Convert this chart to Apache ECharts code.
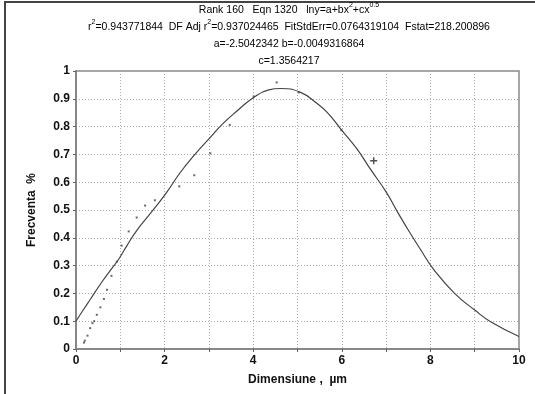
<!DOCTYPE html>
<html>
<head>
<meta charset="utf-8">
<script src="https://cdn.jsdelivr.net/npm/echarts@6/dist/echarts.min.js"></script>
<style>
  html, body { margin: 0; padding: 0; background: #fff; }
  #chart { width: 535px; height: 394px; }
</style>
</head>
<body>
<div id="chart"></div>
<script>
// fitted curve
const curveX = [0, 0.17, 0.32, 0.58, 0.81, 0.96, 1.15, 1.37, 1.67, 1.9, 2.05, 2.35, 2.65, 2.99, 3.3, 3.64, 4.01, 4.35, 4.62, 5.07, 5.45, 5.67, 6.01, 6.35, 6.65, 7.0, 7.25, 7.5, 7.78, 8.08, 8.54, 9.0, 9.37, 10];
const curveY = [0.1, 0.142, 0.178, 0.24, 0.29, 0.322, 0.372, 0.426, 0.486, 0.532, 0.564, 0.634, 0.694, 0.754, 0.808, 0.857, 0.905, 0.932, 0.937, 0.923, 0.882, 0.851, 0.785, 0.718, 0.646, 0.565, 0.495, 0.428, 0.357, 0.285, 0.201, 0.14, 0.097, 0.045];

// measured points
const pointsX = [0.18, 0.2, 0.26, 0.32, 0.37, 0.41, 0.47, 0.55, 0.63, 0.70, 0.80, 0.92, 1.03, 1.19, 1.37, 1.56, 1.78, 2.33, 2.67, 3.03, 3.47, 4.01, 4.53, 5.03, 5.99];
const pointsY = [0.023, 0.03, 0.048, 0.075, 0.093, 0.1, 0.123, 0.15, 0.18, 0.213, 0.263, 0.314, 0.372, 0.423, 0.473, 0.516, 0.535, 0.585, 0.625, 0.704, 0.806, 0.908, 0.959, 0.923, 0.787];

// the point drawn with a cross
const outlierX = [6.72];
const outlierY = [0.677];

const xTicks = [0, 2, 4, 6, 8, 10];

const zip = (xs, ys) => xs.map((x, i) => [x, ys[i]]);

const chart = echarts.init(document.getElementById('chart'), null, { renderer: 'canvas' });

const titleStyle = {
  n: { fontSize: 10.5, fontFamily: 'Liberation Sans', color: '#333', lineHeight: 17 },
  s: { fontSize: 7, fontFamily: 'Liberation Sans', color: '#333', verticalAlign: 'top', lineHeight: 13 }
};

const option = {
  backgroundColor: '#fff',
  animation: false,
  textStyle: { fontFamily: 'Liberation Sans' },
  graphic: [
    // outer frame (top and left edges only)
    { type: 'line', shape: { x1: 4, y1: 2, x2: 535, y2: 2 }, style: { stroke: '#444', lineWidth: 2 } },
    { type: 'line', shape: { x1: 5, y1: 2, x2: 5, y2: 394 }, style: { stroke: '#444', lineWidth: 2 } },
    {
      type: 'text', x: 289, y: 2,
      style: {
        align: 'center', verticalAlign: 'top',
        text: '{n|Rank 160   Eqn 1320   lny=a+bx}{s|2}{n|+cx}{s|0.5}\n' +
              '{n|r}{s|2}{n|=0.943771844  DF Adj r}{s|2}{n|=0.937024465  FitStdErr=0.0764319104  Fstat=218.200896}\n' +
              '{n|a=-2.5042342 b=-0.0049316864}\n' +
              '{n|c=1.3564217}',
        rich: titleStyle
      }
    }
  ],
  grid: {
    left: 76, right: 16, top: 71, bottom: 45,
    show: true, borderColor: '#888', borderWidth: 1.5
  },
  xAxis: {
    type: 'value', min: 0, max: 10, interval: 1,
    name: 'Dimensiune ,  µm', nameLocation: 'middle', nameGap: 25,
    nameTextStyle: { fontSize: 12, fontWeight: 'bold', color: '#111', fontFamily: 'Liberation Sans' },
    axisLine: { show: true, lineStyle: { color: '#888', width: 2 } },
    axisTick: { show: true, length: 3, inside: false, lineStyle: { color: '#666' } },
    axisLabel: {
      fontSize: 12, fontWeight: 'bold', color: '#111', margin: 6,
      formatter: v => xTicks.includes(v) ? String(v) : ''
    },
    splitLine: { show: true, lineStyle: { color: '#aaa', type: [1, 2], width: 1 } }
  },
  yAxis: {
    type: 'value', min: 0, max: 1, interval: 0.1,
    name: 'Frecventa  %', nameLocation: 'middle', nameGap: 38,
    nameTextStyle: { fontSize: 12, fontWeight: 'bold', color: '#111', fontFamily: 'Liberation Sans' },
    axisLine: { show: true, lineStyle: { color: '#888', width: 2 } },
    axisTick: { show: true, length: 3, lineStyle: { color: '#666' } },
    axisLabel: {
      fontSize: 12, fontWeight: 'bold', color: '#111', margin: 6,
      formatter: v => String(Math.round(v * 10) / 10)
    },
    splitLine: { show: true, lineStyle: { color: '#aaa', type: [1, 2], width: 1 } }
  },
  series: [
    {
      type: 'line', data: zip(curveX, curveY), smooth: 0.5, showSymbol: false,
      lineStyle: { color: '#444', width: 1.2 }, silent: true, z: 3
    },
    {
      type: 'scatter', data: zip(pointsX, pointsY), symbol: 'rect', symbolSize: 2,
      itemStyle: { color: '#444' }, silent: true, z: 4
    },
    {
      type: 'scatter', data: zip(outlierX, outlierY),
      symbol: 'path://M4,0 L6,0 L6,4 L10,4 L10,6 L6,6 L6,10 L4,10 L4,6 L0,6 L0,4 L4,4 Z',
      symbolSize: 7, itemStyle: { color: '#222' }, silent: true, z: 4
    }
  ]
};

chart.setOption(option);
</script>
</body>
</html>
